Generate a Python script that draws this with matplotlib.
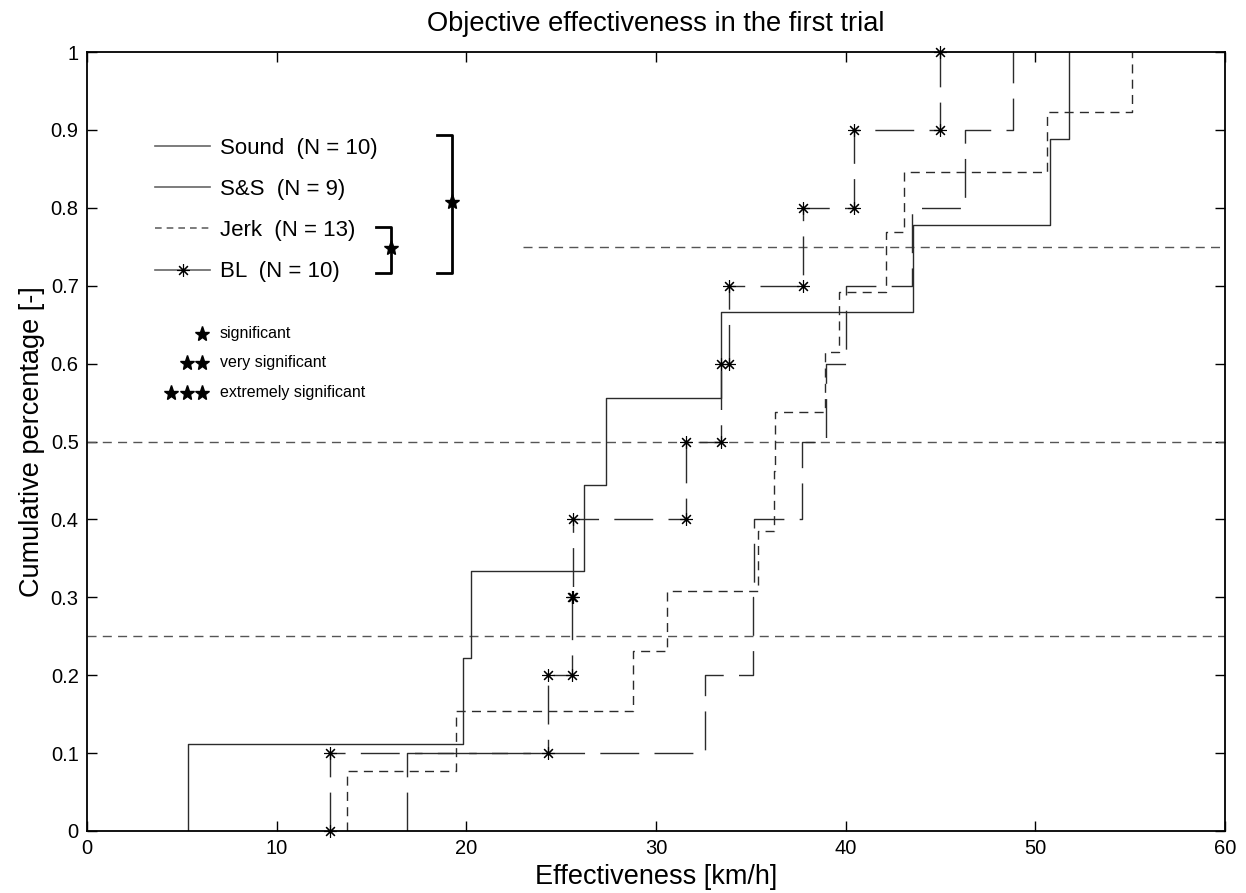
import matplotlib
matplotlib.use("Agg")
import matplotlib.pyplot as plt
from matplotlib.lines import Line2D
from matplotlib.ticker import FormatStrFormatter

plt.rcParams['font.family'] = ['Liberation Sans', 'DejaVu Sans']

# effectiveness values [km/h], sorted, one per subject
sound = [16.85, 32.6, 35.1, 35.15, 37.7, 38.95, 40.0, 43.5, 46.3, 48.8]
sns_vals = [5.3, 19.85, 20.25, 26.2, 27.35, 33.45, 43.55, 50.75, 51.8]
jerk = [13.7, 19.45, 28.8, 30.6, 35.4, 36.2, 36.3, 38.9, 39.65, 42.15, 43.05, 50.6, 55.1]
bl = [12.8, 24.3, 25.55, 25.65, 31.6, 33.45, 33.85, 37.75, 40.45, 45.0]

labels = ["Sound  (N = 10)", "S&S  (N = 9)", "Jerk  (N = 13)", "BL  (N = 10)"]

# quartile reference lines: level, x start, x end
ref_levels = [0.25, 0.5, 0.75]
ref_start = [0, 0, 23]
ref_end = [60, 60, 60]

sig_labels = ["significant", "very significant", "extremely significant"]


def ecdf_steps(vals):
    n = len(vals)
    xs, ys = [], []
    for i, v in enumerate(vals):
        xs += [v, v]
        ys += [i / n, (i + 1) / n]
    return xs, ys


lc = '#2b2b2b'
long_dash = (0, (28, 11))
short_dash = (0, (6.5, 4.5))
aster = (8, 2, 0)

fig = plt.figure(figsize=(12.46, 8.93), dpi=100)
ax = fig.add_axes([87 / 1246, 1 - 831 / 893, 1138 / 1246, 779 / 893])

for lvl, x0, x1 in zip(ref_levels, ref_start, ref_end):
    ax.plot([x0, x1], [lvl, lvl], color='#555555', lw=1.0, ls=short_dash)

x, y = ecdf_steps(sound)
ax.plot(x, y, color=lc, lw=1.0, ls=long_dash)
x, y = ecdf_steps(sns_vals)
ax.plot(x, y, color=lc, lw=1.0, ls='-')
x, y = ecdf_steps(jerk)
ax.plot(x, y, color=lc, lw=1.0, ls=short_dash)
x, y = ecdf_steps(bl)
ax.plot(x, y, color=lc, lw=1.0, ls=long_dash, marker=aster, ms=9, mew=0.8,
        mec='k', clip_on=False)

ax.set_xlim(0, 60)
ax.set_ylim(0, 1)
ax.set_xticks(range(0, 61, 10))
ax.set_yticks([i / 10 for i in range(11)])
ax.yaxis.set_major_formatter(FormatStrFormatter('%g'))
ax.tick_params(direction='in', length=7, width=1, top=True, right=True,
               labelsize=14.5, pad=6)
for s in ax.spines.values():
    s.set_linewidth(1.3)

ax.set_title("Objective effectiveness in the first trial", fontsize=19.6, pad=15)
ax.set_xlabel("Effectiveness [km/h]", fontsize=19.5, labelpad=4)
ax.set_ylabel("Cumulative percentage [-]", fontsize=19.5, labelpad=4)

handles = [
    Line2D([], [], color='#666666', lw=1.2),
    Line2D([], [], color='#666666', lw=1.2),
    Line2D([], [], color='#666666', lw=1.2, ls=(0, (4, 3))),
    Line2D([], [], color='#666666', lw=1.2, marker=aster, ms=9, mew=0.8, mec='k'),
]
ax.legend(handles, labels, loc='upper left', bbox_to_anchor=(0.06, 0.89),
          frameon=False, fontsize=16, borderpad=0, borderaxespad=0,
          handlelength=2.45, handletextpad=0.45, labelspacing=0.91)

# significance brackets (axes fraction)
tr = ax.transAxes
ax.plot([0.3073, 0.3205, 0.3205, 0.3073], [0.8935, 0.8935, 0.7167, 0.7167],
        color='k', lw=2, transform=tr)
ax.plot([0.3205], [0.8078], marker='*', color='k', ms=11, transform=tr)
ax.plot([0.2536, 0.2668, 0.2668, 0.2536], [0.775, 0.775, 0.7167, 0.7167],
        color='k', lw=2, transform=tr)
ax.plot([0.2668], [0.7488], marker='*', color='k', ms=11, transform=tr)

# star legend
star_x = [0.1008, 0.0876, 0.0736]
row_y = [0.6386, 0.6013, 0.5628]
for i, (lab, yy) in enumerate(zip(sig_labels, row_y)):
    ax.plot(star_x[:i + 1], [yy] * (i + 1), ls='none', marker='*', color='k',
            ms=11, transform=tr)
    ax.text(0.1169, yy, lab, fontsize=11.5, va='center', ha='left', transform=tr)

fig.savefig("out.png", dpi=100)
